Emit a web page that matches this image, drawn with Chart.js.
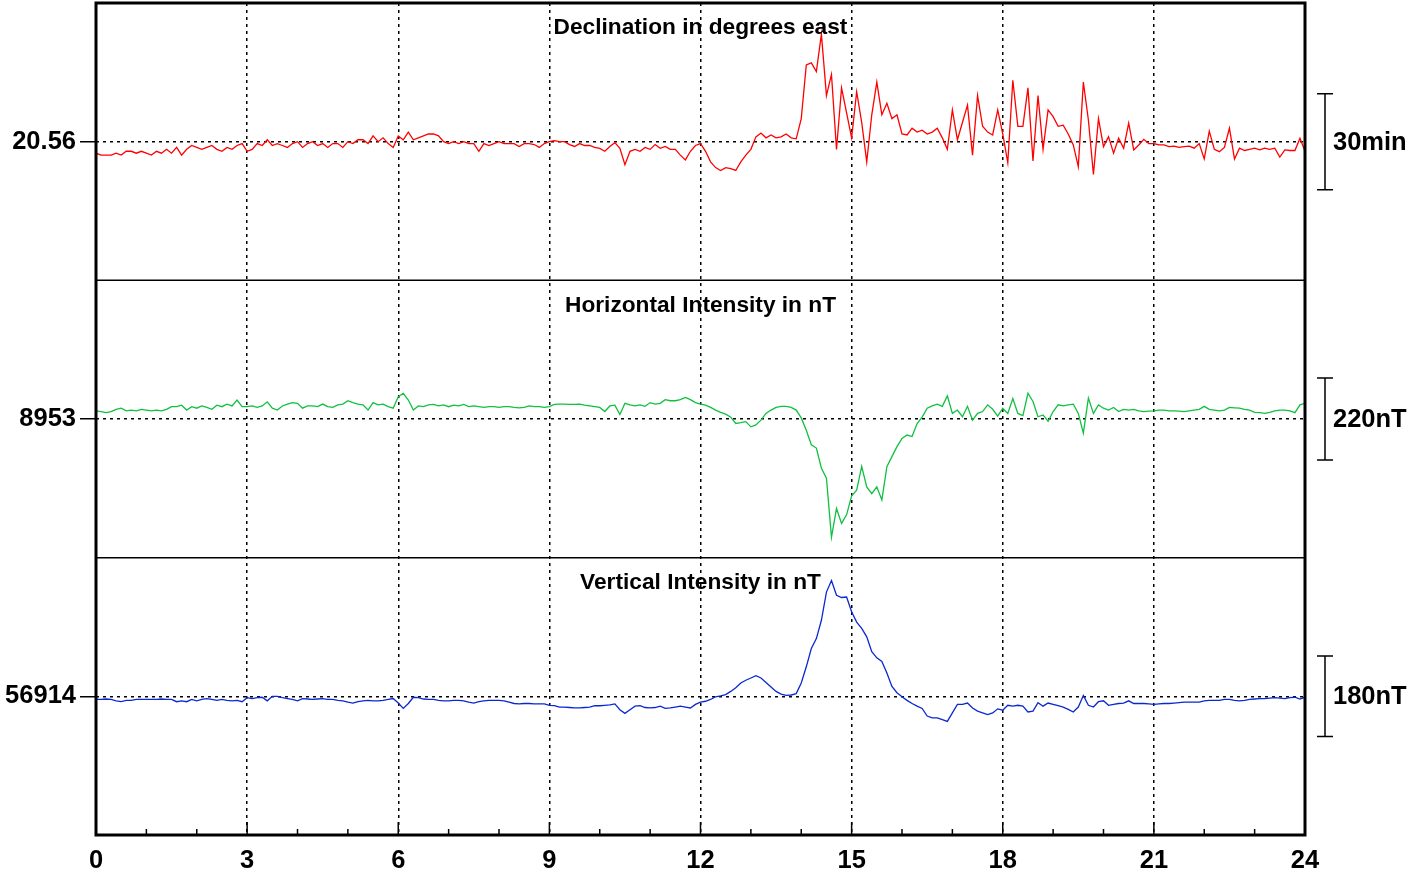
<!DOCTYPE html>
<html>
<head>
<meta charset="utf-8">
<script src="https://cdn.jsdelivr.net/npm/chart.js@4.4.1/dist/chart.umd.min.js"></script>
<style>
  html, body { margin: 0; padding: 0; background: #fff; }
  #wrap { width: 1421px; height: 879px; }
</style>
</head>
<body>
<div id="wrap"><canvas id="magnetogram"></canvas></div>
<script>
// one sample every 0.1 h, 0..24
const hours = Array.from({ length: 241 }, (_, i) => i / 10);

// declination, degrees east
const declination = [
    20.50, 20.49, 20.49, 20.49, 20.50, 20.49, 20.51, 20.51, 20.50, 20.51, // 0h
    20.50, 20.49, 20.51, 20.50, 20.52, 20.50, 20.53, 20.49, 20.52, 20.54, // 1h
    20.53, 20.52, 20.53, 20.54, 20.52, 20.51, 20.53, 20.52, 20.54, 20.55, // 2h
    20.51, 20.52, 20.55, 20.54, 20.57, 20.54, 20.55, 20.54, 20.53, 20.55, // 3h
    20.56, 20.53, 20.55, 20.56, 20.54, 20.55, 20.53, 20.55, 20.55, 20.53, // 4h
    20.56, 20.55, 20.57, 20.57, 20.55, 20.59, 20.56, 20.58, 20.55, 20.53, // 5h
    20.59, 20.57, 20.61, 20.57, 20.58, 20.59, 20.60, 20.60, 20.59, 20.56, // 6h
    20.55, 20.56, 20.55, 20.56, 20.55, 20.55, 20.51, 20.55, 20.54, 20.55, // 7h
    20.56, 20.55, 20.55, 20.55, 20.535, 20.55, 20.55, 20.545, 20.53, 20.55, // 8h
    20.56, 20.565, 20.56, 20.56, 20.545, 20.535, 20.55, 20.54, 20.54, 20.53, // 9h
    20.525, 20.51, 20.535, 20.555, 20.525, 20.44, 20.51, 20.52, 20.51, 20.53, // 10h
    20.52, 20.545, 20.525, 20.535, 20.52, 20.52, 20.49, 20.465, 20.51, 20.54, // 11h
    20.55, 20.51, 20.455, 20.425, 20.41, 20.425, 20.42, 20.41, 20.455, 20.49, // 12h
    20.52, 20.585, 20.605, 20.58, 20.595, 20.58, 20.585, 20.60, 20.58, 20.575, // 13h
    20.68, 20.96, 20.97, 20.925, 21.12, 20.80, 20.91, 20.52, 20.84, 20.71, // 14h
    20.58, 20.82, 20.66, 20.455, 20.70, 20.87, 20.70, 20.76, 20.68, 20.70, // 15h
    20.60, 20.595, 20.63, 20.61, 20.62, 20.60, 20.61, 20.63, 20.58, 20.52, // 16h
    20.725, 20.57, 20.66, 20.75, 20.49, 20.80, 20.64, 20.61, 20.595, 20.725, // 17h
    20.60, 20.45, 20.88, 20.64, 20.64, 20.84, 20.46, 20.80, 20.52, 20.725, // 18h
    20.69, 20.64, 20.646, 20.60, 20.543, 20.43, 20.87, 20.673, 20.39, 20.68, // 19h
    20.534, 20.586, 20.50, 20.578, 20.526, 20.656, 20.517, 20.543, 20.572, 20.55, // 20h
    20.55, 20.543, 20.543, 20.534, 20.537, 20.53, 20.534, 20.537, 20.526, 20.55, // 21h
    20.47, 20.615, 20.52, 20.508, 20.53, 20.63, 20.47, 20.526, 20.514, 20.52, // 22h
    20.526, 20.517, 20.526, 20.52, 20.526, 20.48, 20.517, 20.514, 20.514, 20.578, // 23h
    20.51
];

// horizontal intensity, nT
const horizontal = [
    8975, 8973, 8970, 8973, 8979, 8982, 8975, 8977, 8975, 8979, // 0h
    8977, 8975, 8977, 8975, 8979, 8986, 8986, 8990, 8977, 8986, // 1h
    8982, 8988, 8984, 8979, 8990, 8986, 8993, 8988, 9004, 8986, // 2h
    8986, 8988, 8984, 8988, 8999, 8982, 8977, 8988, 8993, 8997, // 3h
    8995, 8982, 8988, 8988, 8986, 8993, 8986, 8984, 8991, 8993, // 4h
    9002, 8997, 8993, 8991, 8977, 8997, 8991, 8993, 8986, 8982, // 5h
    9013, 9022, 9004, 8977, 8988, 8986, 8991, 8992, 8988, 8991, // 6h
    8986, 8990, 8988, 8992, 8986, 8988, 8986, 8984, 8986, 8986, // 7h
    8984, 8986, 8986, 8984, 8983, 8984, 8988, 8986, 8986, 8984, // 8h
    8986, 8992, 8993, 8993, 8992, 8992, 8993, 8990, 8988, 8986, // 9h
    8984, 8973, 8988, 8990, 8965, 8995, 8991, 8988, 8991, 8987, // 10h
    8997, 8993, 8995, 9005, 9002, 9002, 9005, 9011, 9005, 8997, // 11h
    8993, 8990, 8984, 8977, 8971, 8966, 8958, 8941, 8943, 8946, // 12h
    8932, 8937, 8950, 8968, 8977, 8984, 8987, 8987, 8984, 8977, // 13h
    8956, 8923, 8884, 8875, 8821, 8794, 8636, 8713, 8673, 8696, // 14h
    8747, 8762, 8826, 8771, 8753, 8771, 8736, 8825, 8852, 8879, // 15h
    8901, 8910, 8906, 8941, 8958, 8982, 8988, 8993, 8987, 9015, // 16h
    8968, 8977, 8959, 8987, 8950, 8968, 8973, 8991, 8979, 8961, // 17h
    8982, 8968, 9008, 8968, 8962, 9022, 9000, 8959, 8964, 8947, // 18h
    8973, 8991, 8988, 8991, 8993, 8968, 8915, 9009, 8968, 8991, // 19h
    8982, 8977, 8984, 8973, 8979, 8977, 8979, 8975, 8973, 8974, // 20h
    8975, 8977, 8977, 8975, 8975, 8974, 8973, 8975, 8977, 8979, // 21h
    8987, 8979, 8977, 8975, 8977, 8984, 8983, 8982, 8979, 8977, // 22h
    8971, 8970, 8968, 8971, 8975, 8977, 8977, 8975, 8970, 8991, // 23h
    8995
];

// vertical intensity, nT
const vertical = [
    56907, 56907, 56908, 56907, 56904, 56902, 56905, 56905, 56907, 56907, // 0h
    56907, 56907, 56907, 56908, 56907, 56907, 56902, 56904, 56902, 56907, // 1h
    56904, 56907, 56909, 56907, 56905, 56907, 56905, 56904, 56905, 56902, // 2h
    56911, 56909, 56911, 56912, 56904, 56914, 56914, 56911, 56909, 56907, // 3h
    56904, 56909, 56908, 56907, 56908, 56909, 56907, 56907, 56905, 56904, // 4h
    56901, 56899, 56902, 56904, 56905, 56904, 56904, 56905, 56907, 56909, // 5h
    56899, 56887, 56898, 56912, 56911, 56908, 56907, 56907, 56905, 56904, // 6h
    56904, 56905, 56905, 56904, 56901, 56899, 56902, 56904, 56905, 56905, // 7h
    56905, 56904, 56901, 56898, 56897, 56898, 56898, 56897, 56897, 56897, // 8h
    56894, 56893, 56890, 56890, 56889, 56888, 56888, 56889, 56890, 56893, // 9h
    56893, 56894, 56895, 56897, 56884, 56876, 56884, 56892, 56893, 56889, // 10h
    56888, 56889, 56892, 56887, 56888, 56890, 56892, 56890, 56888, 56896, // 11h
    56901, 56903, 56907, 56913, 56915, 56918, 56925, 56933, 56944, 56950, // 12h
    56955, 56960, 56955, 56945, 56935, 56925, 56919, 56916, 56917, 56920, // 13h
    56944, 56980, 57021, 57043, 57084, 57147, 57173, 57140, 57135, 57136, // 14h
    57103, 57080, 57066, 57047, 57014, 57000, 56992, 56966, 56936, 56922, // 15h
    56913, 56905, 56898, 56892, 56887, 56870, 56866, 56866, 56862, 56858, // 16h
    56877, 56896, 56896, 56899, 56888, 56881, 56877, 56873, 56877, 56886, // 17h
    56883, 56894, 56892, 56894, 56892, 56879, 56881, 56900, 56892, 56899, // 18h
    56896, 56893, 56890, 56885, 56879, 56890, 56916, 56894, 56890, 56902, // 19h
    56904, 56894, 56896, 56898, 56899, 56904, 56898, 56898, 56898, 56897, // 20h
    56896, 56897, 56898, 56898, 56899, 56900, 56901, 56901, 56901, 56901, // 21h
    56904, 56905, 56905, 56905, 56907, 56907, 56905, 56904, 56905, 56907, // 22h
    56908, 56909, 56909, 56910, 56911, 56910, 56909, 56911, 56912, 56908, // 23h
    56912
];

const panelIds = ['yD', 'yH', 'yZ'];
const panelTitles = ['Declination in degrees east', 'Horizontal Intensity in nT', 'Vertical Intensity in nT'];
const baselines = [20.56, 8953, 56914];
const baselineLabels = ['20.56', '8953', '56914'];
const halfRanges = [0.722, 372, 310];
const scaleBars = [0.5, 220, 180];
const scaleBarLabels = ['30min', '220nT', '180nT'];
const lineColors = ['#ff0000', '#10c040', '#0a28d0'];

const FONT = '"Liberation Sans", Arial, Helvetica, sans-serif';

function toPoints(values) {
    return values.map((v, i) => ({ x: hours[i], y: v }));
}

function panelAxis(i) {
    return {
        type: 'linear',
        position: 'left',
        stack: 'panels',
        stackWeight: 1,
        min: baselines[i] - halfRanges[i],
        max: baselines[i] + halfRanges[i],
        afterFit: s => { s.width = 96; s.paddingTop = 0; s.paddingBottom = 0; },
        afterBuildTicks: s => { s.ticks = [{ value: baselines[i] }]; },
        ticks: {
            callback: () => baselineLabels[i],
            color: '#000',
            font: { family: FONT, size: 25.5, weight: 'bold' },
            padding: 4
        },
        grid: {
            color: '#000',
            lineWidth: 1.5,
            drawTicks: true,
            tickLength: 16,
            tickColor: '#000',
            tickWidth: 1.5
        },
        border: { display: false, dash: [3, 4] }
    };
}

// frame, panel separators, hour ticks, panel titles and scale bars
const panelDecor = {
    id: 'panelDecor',
    afterDraw(chart) {
        const { ctx, chartArea: a, scales } = chart;
        const xs = scales.x;
        ctx.save();
        ctx.strokeStyle = '#000';
        ctx.fillStyle = '#000';

        ctx.lineWidth = 1.5;
        for (let h = 0; h <= 24; h++) {
            const px = xs.getPixelForValue(h);
            const len = h % 3 === 0 ? 13 : 6;
            ctx.beginPath();
            ctx.moveTo(px, a.bottom);
            ctx.lineTo(px, a.bottom - len);
            ctx.stroke();
        }

        ctx.lineWidth = 1.5;
        ['yD', 'yH'].forEach(id => {
            const y = scales[id].bottom;
            ctx.beginPath();
            ctx.moveTo(a.left, y);
            ctx.lineTo(a.right, y);
            ctx.stroke();
        });

        ctx.lineWidth = 3;
        ctx.strokeRect(a.left, a.top, a.right - a.left, a.bottom - a.top);

        panelIds.forEach((id, i) => {
            const s = scales[id];
            ctx.font = 'bold 22.7px ' + FONT;
            ctx.textAlign = 'center';
            ctx.textBaseline = 'middle';
            ctx.fillText(panelTitles[i], (a.left + a.right) / 2, s.top + 25);

            const yTop = s.getPixelForValue(baselines[i] + scaleBars[i] / 2);
            const yBot = s.getPixelForValue(baselines[i] - scaleBars[i] / 2);
            const bx = a.right + 20;
            ctx.lineWidth = 1.5;
            ctx.beginPath();
            ctx.moveTo(bx, yTop); ctx.lineTo(bx, yBot);
            ctx.moveTo(bx - 8, yTop); ctx.lineTo(bx + 8, yTop);
            ctx.moveTo(bx - 8, yBot); ctx.lineTo(bx + 8, yBot);
            ctx.stroke();

            ctx.font = 'bold 25.5px ' + FONT;
            ctx.textAlign = 'left';
            ctx.fillText(scaleBarLabels[i], a.right + 28, s.getPixelForValue(baselines[i]) + 1);
        });
        ctx.restore();
    }
};

new Chart(document.getElementById('magnetogram'), {
    type: 'line',
    data: {
        datasets: [
            { label: 'D', data: toPoints(declination), yAxisID: 'yD', borderColor: lineColors[0] },
            { label: 'H', data: toPoints(horizontal), yAxisID: 'yH', borderColor: lineColors[1] },
            { label: 'Z', data: toPoints(vertical), yAxisID: 'yZ', borderColor: lineColors[2] }
        ]
    },
    options: {
        responsive: true,
        maintainAspectRatio: false,
        animation: false,
        layout: { padding: { left: 0, right: 116, top: 3, bottom: 0 } },
        elements: {
            point: { radius: 0 },
            line: { borderWidth: 1.3, tension: 0 }
        },
        plugins: {
            legend: { display: false },
            tooltip: { enabled: false }
        },
        scales: {
            x: {
                type: 'linear',
                min: 0,
                max: 24,
                afterFit: s => { s.height = 44; s.paddingLeft = 0; s.paddingRight = 0; },
                ticks: {
                    stepSize: 1,
                    autoSkip: false,
                    maxRotation: 0,
                    callback: v => (v % 3 === 0 ? String(v) : ''),
                    color: '#000',
                    font: { family: FONT, size: 25.5, weight: 'bold' },
                    padding: 11
                },
                grid: {
                    color: c => (c.tick && c.tick.value % 3 === 0 && c.tick.value > 0 && c.tick.value < 24) ? '#000' : 'rgba(0,0,0,0)',
                    lineWidth: 1.5,
                    drawTicks: false
                },
                border: { display: false, dash: [3, 4] }
            },
            yZ: panelAxis(2),
            yH: panelAxis(1),
            yD: panelAxis(0)
        }
    },
    plugins: [panelDecor]
});
</script>
</body>
</html>
